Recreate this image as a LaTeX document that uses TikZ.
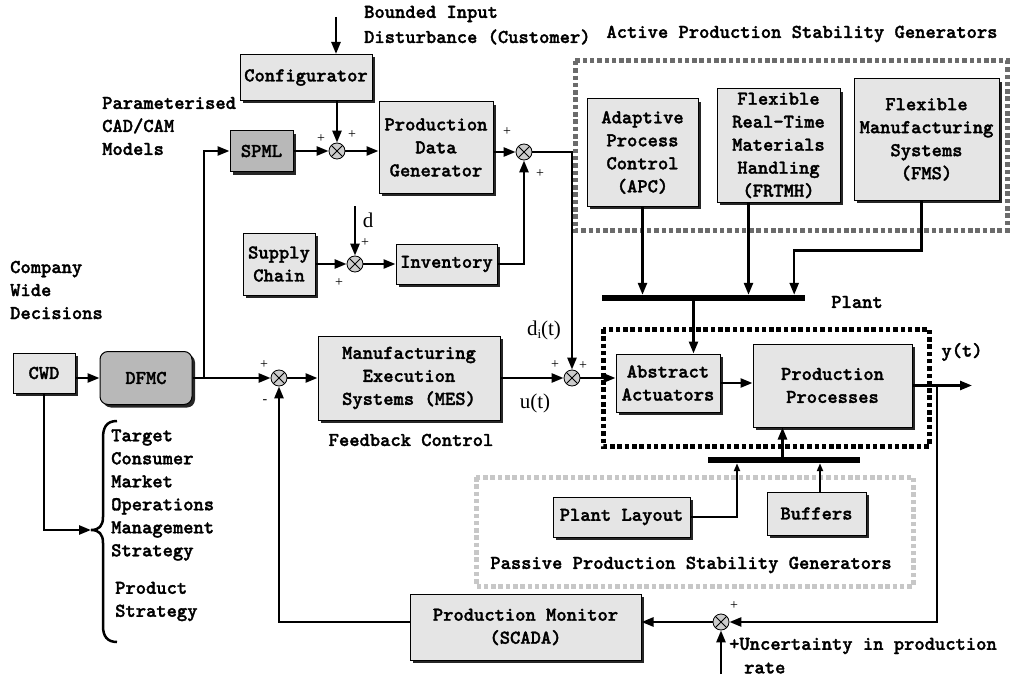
\documentclass[tikz,border=0pt]{standalone}
\usepackage{fontspec}
\setmainfont{Liberation Serif}
\newfontfamily\courfont{lmmonolt10-bold.otf}[FakeBold=1.6]
\usetikzlibrary{arrows.meta,shadows,calc}
\definecolor{boxgray}{gray}{0.9}
\definecolor{darkbox}{gray}{0.72}
\definecolor{sumgray}{gray}{0.8}
\definecolor{activegray}{gray}{0.42}
\definecolor{passivegray}{gray}{0.78}
\tikzset{
  lbl/.style={font=\courfont\fontsize{19.6}{23}\selectfont, align=center, inner sep=0pt},
  blk/.style={lbl, draw, line width=1pt, fill=boxgray,
    general shadow={fill=black!85, shadow xshift=3pt, shadow yshift=-3pt}},
  dblk/.style={blk, fill=darkbox},
  sumnode/.style={circle, draw, line width=0.8pt, fill=sumgray, minimum size=16pt, inner sep=0pt,
    path picture={\draw[line width=0.8pt] (path picture bounding box.north west) -- (path picture bounding box.south east)
      (path picture bounding box.north east) -- (path picture bounding box.south west);}},
  arr/.style={line width=2.5pt, -{Triangle[length=12pt,width=9pt]}},
  conn/.style={line width=2.5pt},
  sgn/.style={font=\fontsize{14}{14}\selectfont, inner sep=0pt},
  ser/.style={font=\fontsize{21}{21}\selectfont, inner sep=0pt},
  barnode/.style={fill=black, inner sep=0pt, minimum height=6pt},
  framefr/.style={line width=5pt, dash pattern=on 4.5pt off 2.8pt},
}
\begin{document}
\begin{tikzpicture}[x=1pt,y=-1pt]
\useasboundingbox (0,0) rectangle (1013,677);

% frames
\draw[framefr, draw=activegray] (575,61) rectangle (1007,230);
\draw[framefr, draw=black] (603,329) rectangle (929,446);
\draw[framefr, draw=passivegray] (476,477) rectangle (913,586);

% blocks
\node[blk, minimum width=132pt, minimum height=46pt] (conf) at (306,77.5) {Configurator};
\node[dblk, minimum width=63pt, minimum height=41pt] (spml) at (261.5,151) {SPML};
\node[blk, minimum width=114pt, minimum height=91pt] (pdg) at (436,147.5) {Production\\Data\\Generator};
\node[blk, minimum width=72pt, minimum height=62pt] (sc) at (279,264) {Supply\\Chain};
\node[blk, minimum width=101pt, minimum height=40pt] (inv) at (446.5,264) {Inventory};
\node[blk, minimum width=62pt, minimum height=40pt] (cwd) at (44,373) {CWD};
\node[dblk, rounded corners=8pt, minimum width=92pt, minimum height=53pt] (dfmc) at (146,378) {DFMC};
\node[blk, minimum width=182pt, minimum height=84pt] (mes) at (409,378) {Manufacturing\\Execution\\Systems (MES)};
\node[blk, minimum width=104pt, minimum height=58pt] (aa) at (668,383) {Abstract\\Actuators};
\node[blk, minimum width=159pt, minimum height=83pt] (pp) at (832.5,385.5) {Production\\Processes};
\node[blk, minimum width=111pt, minimum height=107pt] (apc) at (642.5,152.5) {Adaptive\\Process\\Control\\(APC)};
\node[blk, minimum width=123pt, minimum height=113pt] (frtmh) at (778.5,145.5) {Flexible\\Real-Time\\Materials\\Handling\\(FRTMH)};
\node[blk, minimum width=145pt, minimum height=121pt] (fms) at (926.5,139.5) {Flexible\\Manufacturing\\Systems\\(FMS)};
\node[blk, minimum width=137pt, minimum height=40pt] (pl) at (621.5,517) {Plant Layout};
\node[blk, minimum width=99pt, minimum height=43pt] (buf) at (816.5,513.5) {Buffers};
\node[blk, minimum width=231pt, minimum height=66pt] (pm) at (525.5,627) {Production Monitor\\(SCADA)};

% bars
\node[barnode, minimum width=203pt] (pbar) at (703.5,298) {};
\node[barnode, minimum width=152pt] (qbar) at (784,460) {};

% summing junctions
\node[sumnode] (s1) at (337,151) {};
\node[sumnode] (s2) at (524,152) {};
\node[sumnode] (s3) at (572,378) {};
\node[sumnode] (s4) at (355,264) {};
\node[sumnode] (s5) at (279,378) {};
\node[sumnode] (s6) at (721,622) {};

% coordinates
\coordinate (bin) at (336,17);
\coordinate (dtop) at (355,206);
\coordinate (j1) at (204,378);
\coordinate (j2) at (937,385.5);
\coordinate (yend) at (972,385.5);
\coordinate (ubot) at (721,674);
\coordinate (btip) at (91,530);

% connectors
\draw[arr] (bin) -- (bin |- conf.north);
\draw[arr] (conf.south -| s1) -- (s1.north);
\draw[arr] (j1) |- (spml.west);
\draw[arr] (spml.east) -- (s1.west);
\draw[arr] (s1.east) -- (s1.east -| pdg.west);
\draw[arr] (pdg.east |- s2) -- (s2.west);
\draw[arr] (inv.east) -| (s2.south);
\draw[arr] (s2.east) -| (s3.north);
\draw[arr] (sc.east) -- (s4.west);
\draw[arr] (dtop) -- (s4.north);
\draw[arr] (s4.east) -- (inv.west);
\draw[arr] (cwd.east |- dfmc) -- (dfmc.west);
\draw[arr] (dfmc.east) -- (s5.west);
\draw[arr] (s5.east) -- (mes.west |- s5);
\draw[arr] (mes.east |- s3) -- (s3.west);
\draw[arr] (s3.east) -- (s3.east -| aa.west);
\draw[arr] (aa.east) -- (aa.east -| pp.west);
\draw[arr] (pp.east) -- (yend);
\draw[arr] (j2) |- (s6.east);
\draw[arr] (s6.west) -- (s6.west -| pm.east);
\draw[arr] (pm.west |- s6) -| (s5.south);
\draw[arr] (ubot) -- (s6.south);
\draw[arr] (cwd.south) |- (btip);

% active generators to plant bar
\draw[arr] (apc.south) -- (apc.south |- pbar.north);
\draw[arr] ([xshift=-30pt]frtmh.south) -- ([xshift=-30pt]frtmh.south |- pbar.north);
\draw[arr] ([xshift=-5pt]fms.south) -- ++(0,50) -| ([xshift=-11pt]pbar.north east);
\draw[arr] ([xshift=-27pt]aa.north east |- pbar.south) -- ([xshift=-27pt]aa.north east);
% passive generators to bar
\draw[arr] ([xshift=30pt]pp.south west |- qbar.north) -- ([xshift=30pt]pp.south west);
\draw[line width=2.5pt, -{Triangle[length=8pt,width=6pt]}] (pl.east) -| ([xshift=-47pt]qbar.south);
\draw[line width=2.5pt, -{Triangle[length=8pt,width=6pt]}] ([xshift=3.5pt]buf.north) -- ([xshift=3.5pt]buf.north |- qbar.south);

% brace
\draw[line width=2.5pt] (117,421) .. controls (106,421) and (103,428) .. (103,438) -- (103,517)
  .. controls (103,526) and (99,530) .. (btip) .. controls (99,530) and (103,534) .. (103,543)
  -- (103,626) .. controls (103,636) and (107,642) .. (117,642);

% text labels
\node[lbl, anchor=west] (t1) at (364,14) {Bounded Input};
\node[lbl, anchor=west] (t2) at (364,37) {Disturbance (Customer)};
\node[lbl] (t3) at (802,34) {Active Production Stability Generators};
\node[lbl, align=left, anchor=west] (t4) at (102,126) {Parameterised\\CAD/CAM\\Models};
\node[lbl, align=left, anchor=west] (t5) at (10,290) {Company\\Wide\\Decisions};
\node[lbl, align=left, anchor=west] (t6) at (111,495) {Target\\Consumer\\Market\\Operations\\Management\\Strategy};
\node[lbl, align=left, anchor=west] (t7) at (115,601.5) {Product\\Strategy};
\node[lbl] (t8) at (411,440) {Feedback Control};
\node[lbl] (t9) at (857,302) {Plant};
\node[lbl] (t10) at (962,352) {y(t)};
\node[lbl] (t11) at (691,565) {Passive Production Stability Generators};
\node[lbl, anchor=west] (t12) at (729,646) {+Uncertainty in production};
\node[lbl, anchor=west] (t13) at (744,668) {rate};

\node[ser] (ld) at (368,220) {d};
\node[ser] (ldi) at (544,330) {d\raisebox{-3pt}{\fontsize{13}{13}\selectfont i}(t)};
\node[ser] (lu) at (535,403) {u(t)};

% signs
\node[sgn] at (321,139) {+};
\node[sgn] at (352,135) {+};
\node[sgn] at (507,132) {+};
\node[sgn] at (540,174) {+};
\node[sgn] at (365,243) {+};
\node[sgn] at (339,283) {+};
\node[sgn] at (264,365) {+};
\node[sgn] at (265,402) {-};
\node[sgn] at (555,365) {+};
\node[sgn] at (583,366) {+};
\node[sgn] at (734,606) {+};
\end{tikzpicture}
\end{document}
